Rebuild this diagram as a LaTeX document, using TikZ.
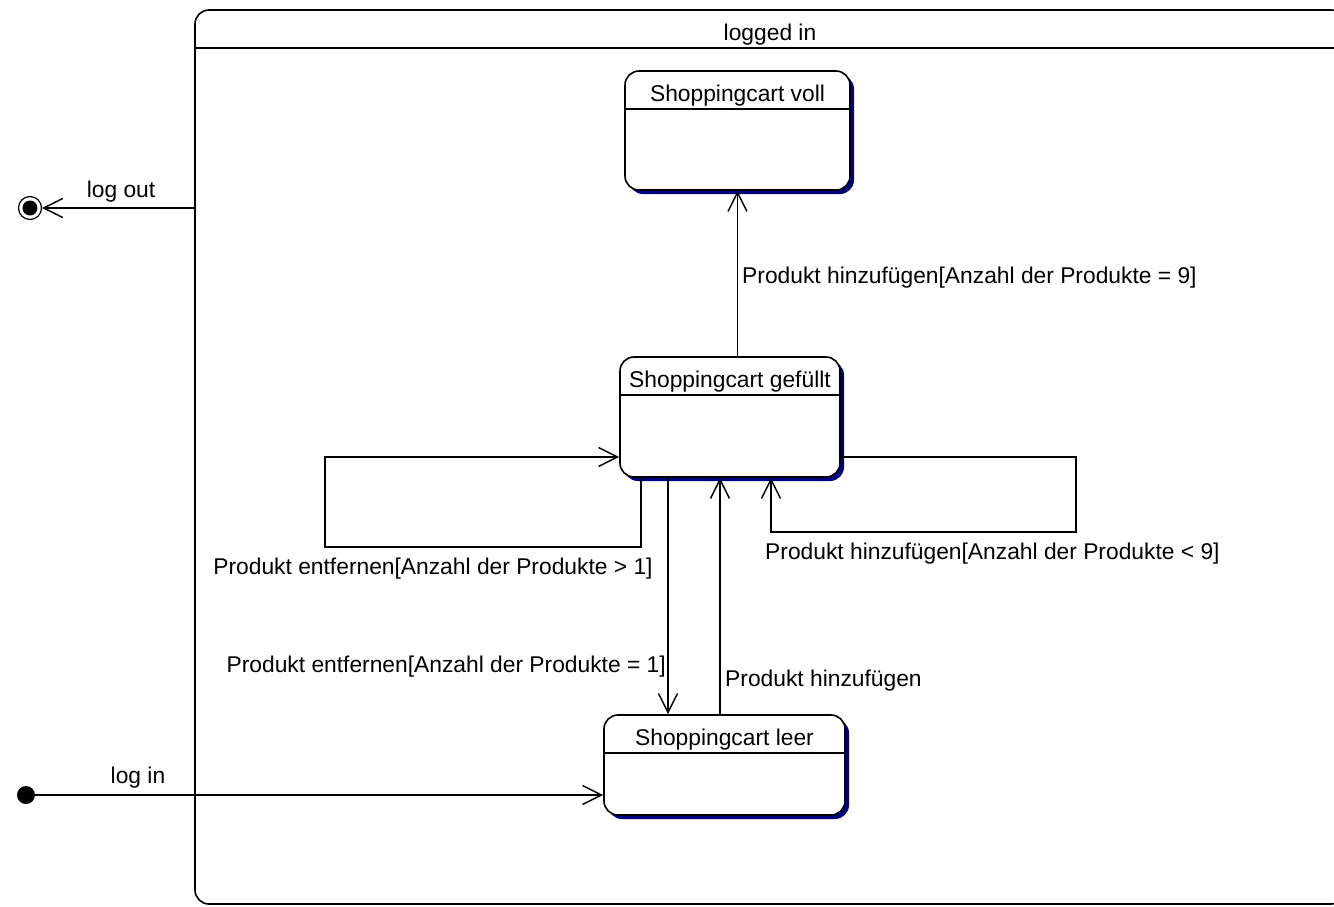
\documentclass[tikz,border=0pt]{standalone}
\usepackage{fontspec}
\setmainfont{Liberation Sans}
\usetikzlibrary{arrows.meta,shadows}
\definecolor{navy}{RGB}{0,0,128}

\begin{document}
\begin{tikzpicture}[x=1pt,y=-1pt,font=\fontsize{22.8}{26}\selectfont]
\useasboundingbox (0,0) rectangle (1334,906);
\clip (0,0) rectangle (1334,906);

\tikzset{StateStyle/.style = {
 draw, fill = white,
 line width = 1.6pt,
 rounded corners = 14pt,
 inner sep = 0pt,
 path picture = {\draw[line width=1.6pt]
   ([yshift=-38pt]path picture bounding box.north west) --
   ([yshift=-38pt]path picture bounding box.north east);},
 label = {[anchor=center, yshift=-25pt]north:#1}} }
\tikzset{ShadowStyle/.style = {
 drop shadow = {shadow xshift=4pt, shadow yshift=-4pt, fill=navy, opacity=1}} }

\node[StateStyle={logged in}, minimum width=1150pt, minimum height=894pt] (LoggedIn) at (770,457) {};

\node[StateStyle={Shoppingcart voll}, ShadowStyle, minimum width=225pt, minimum height=119pt] (Voll) at (737.5,130.5) {};
\node[StateStyle={Shoppingcart gefüllt}, ShadowStyle, minimum width=220pt, minimum height=120pt] (Gefuellt) at (730,417) {};
\node[StateStyle={Shoppingcart leer}, ShadowStyle, minimum width=241pt, minimum height=100pt] (Leer) at (724.5,765) {};

\node[circle, fill=black, minimum size=18pt, inner sep=0pt] (Start) at (26,795) {};
\node[circle, draw, line width=1.2pt, minimum size=23pt, inner sep=0pt] (Ende) at (30,208) {};
\fill (Ende) circle (7.5);

\coordinate (LoopL) at (325,547);
\coordinate (LoopR) at (1076,532);
\coordinate (DownTop) at ([xshift=-62pt]Gefuellt.south);
\coordinate (UpTop) at ([xshift=-10pt]Gefuellt.south);

\tikzset{EdgeStyle/.style = {line width=1.6pt,
 -{Straight Barb[length=19pt, width=19pt, line width=1.5pt]}} }

\draw[EdgeStyle] (LoggedIn.west |- Ende) -- (Ende);
\draw[EdgeStyle] (Start) -- (Start -| Leer.west);
\draw[EdgeStyle] (Voll.south |- Gefuellt.north) -- (Voll.south);
\draw[EdgeStyle] ([xshift=-89pt]Gefuellt.south) |- (LoopL) |- ([yshift=-40pt]Gefuellt.west);
\draw[EdgeStyle] ([yshift=-40pt]Gefuellt.east) -| (LoopR) -| ([xshift=41pt]Gefuellt.south);
\draw[EdgeStyle] (DownTop) -- (DownTop |- Leer.north);
\draw[EdgeStyle] (UpTop |- Leer.north) -- (UpTop);

\tikzset{LabelStyle/.style = {inner sep=1pt}}

\node[LabelStyle] (LblLogOut) at (121,192) {log out};
\node[LabelStyle] (LblLogIn) at (138,778) {log in};
\node[LabelStyle, anchor=west] (LblVoll) at (741,278) {Produkt hinzufügen[Anzahl der Produkte = 9]};
\node[LabelStyle] (LblEntfernen) at (433,569) {Produkt entfernen[Anzahl der Produkte > 1]};
\node[LabelStyle, anchor=west] (LblHinzu) at (764,554) {Produkt hinzufügen[Anzahl der Produkte < 9]};
\node[LabelStyle, anchor=east] (LblLeeren) at (667,667) {Produkt entfernen[Anzahl der Produkte = 1]};
\node[LabelStyle, anchor=west] (LblFuellen) at (724,681) {Produkt hinzufügen};

\end{tikzpicture}
\end{document}
